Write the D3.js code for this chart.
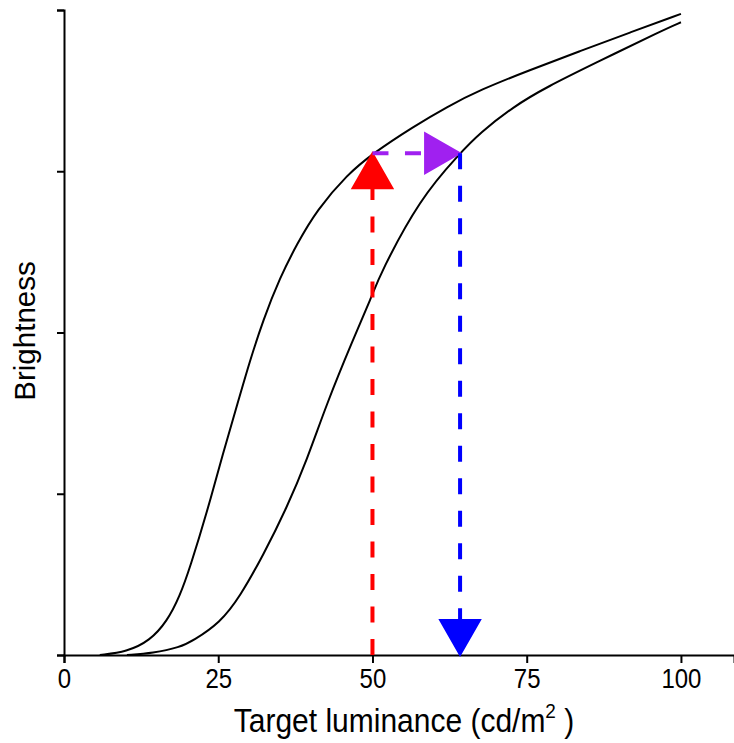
<!DOCTYPE html>
<html>
<head>
<meta charset="utf-8">
<script src="https://d3js.org/d3.v7.min.js"></script>
<style>
  body { margin: 0; background: #fff; }
  svg { font-family: "Liberation Sans", Arial, sans-serif; }
</style>
</head>
<body>
<div id="chart"></div>
<script>
// luminance (cd/m2) and brightness (0..1)
const lumLeft = [5.8, 10.2, 13.9, 16.7, 18.8, 20.4, 23.2, 25.8, 28.2, 30.1, 32.3, 35.0, 37.8, 41.0, 45.9, 50.1, 56.6, 62.1, 67.4, 75.5, 83.6, 91.7, 100];
const briLeft = [0, 0.005, 0.022, 0.052, 0.092, 0.135, 0.222, 0.314, 0.392, 0.455, 0.520, 0.585, 0.638, 0.690, 0.745, 0.778, 0.819, 0.850, 0.876, 0.907, 0.936, 0.965, 0.994];
const lumRight = [10.2, 14.4, 18.8, 20.9, 25.3, 28.5, 32.3, 36.1, 39.4, 42.6, 46.8, 49.9, 51.2, 57.7, 64.2, 67.4, 72.8, 78.3, 86.4, 97.1, 100];
const briRight = [0, 0.003, 0.012, 0.022, 0.050, 0.090, 0.155, 0.228, 0.303, 0.390, 0.488, 0.556, 0.590, 0.708, 0.778, 0.809, 0.850, 0.881, 0.919, 0.969, 0.981];

const xTicks = [0, 25, 50, 75, 100];
const yTicks = [0, 0.25, 0.5, 0.75, 1];

// arrows: [x0, y0, x1, y1] in data units
const arrowRed = [50, 0, 50, 0.778];
const arrowPurple = [50, 0.778, 64.2, 0.778];
const arrowBlue = [64.2, 0.778, 64.2, 0];

const width = 734, height = 743;
const margin = {top: 10, right: 0, bottom: 88, left: 64};

const svg = d3.select('#chart').append('svg')
  .attr('width', width)
  .attr('height', height);

const x = d3.scaleLinear().domain([0, 108.6]).range([margin.left, width - margin.right]);
const y = d3.scaleLinear().domain([0, 1]).range([height - margin.bottom, margin.top]);

// axes
const xAxis = svg.append('g')
  .attr('transform', 'translate(0,' + y(0) + ')')
  .call(d3.axisBottom(x).tickValues(xTicks).tickSizeOuter(0).tickSize(8).tickPadding(4));
xAxis.selectAll('text')
  .attr('font-size', 24)
  .attr('fill', '#000')
  .attr('transform', 'scale(1,1.12)')
  .attr('font-family', '"Liberation Sans", Arial, sans-serif');

svg.append('g')
  .attr('transform', 'translate(' + x(0) + ',0)')
  .call(d3.axisLeft(y).tickValues(yTicks).tickSizeOuter(0).tickSize(7).tickFormat(''));

svg.selectAll('.domain, .tick line').attr('stroke', '#000').attr('stroke-width', 2);

// curves
const line = d3.line()
  .x(d => x(d[0]))
  .y(d => y(d[1]))
  .curve(d3.curveBasis);

[[lumLeft, briLeft], [lumRight, briRight]].forEach(([lx, by]) => {
  svg.append('path')
    .datum(d3.zip(lx, by))
    .attr('fill', 'none')
    .attr('stroke', '#000')
    .attr('stroke-width', 2)
    .attr('d', line);
});

// dashed arrows with filled triangle heads
function arrow(a, color) {
  const x0 = x(a[0]), y0 = y(a[1]), x1 = x(a[2]), y1 = y(a[3]);
  const len = Math.hypot(x1 - x0, y1 - y0);
  const ux = (x1 - x0) / len, uy = (y1 - y0) / len;
  const headLen = 35, headHalf = 20;
  const bx = x1 - ux * headLen, by = y1 - uy * headLen;

  svg.append('line')
    .attr('x1', x0).attr('y1', y0)
    .attr('x2', bx).attr('y2', by)
    .attr('stroke', color)
    .attr('stroke-width', 4)
    .attr('stroke-dasharray', '16,16.5');

  const pts = [
    [x1, y1],
    [bx - uy * headHalf, by + ux * headHalf],
    [bx + uy * headHalf, by - ux * headHalf]
  ];
  svg.append('polygon')
    .attr('points', pts.map(p => p.join(',')).join(' '))
    .attr('fill', color)
    .attr('stroke', color)
    .attr('stroke-width', 2);
}

arrow(arrowRed, '#ff0000');
arrow(arrowPurple, '#a020f0');
arrow(arrowBlue, '#0000ff');

// titles
const xTitle = svg.append('text')
  .attr('transform', 'translate(404,732) scale(1,1.1)')
  .attr('text-anchor', 'middle')
  .attr('font-size', 30)
  .attr('fill', '#000');
xTitle.append('tspan').text('Target luminance (cd/m');
xTitle.append('tspan').attr('font-size', 19).attr('dy', -13).text('2');
xTitle.append('tspan').attr('dy', 13).text(' )');

svg.append('text')
  .attr('transform', 'translate(35,331) rotate(-90)')
  .attr('text-anchor', 'middle')
  .attr('font-size', 29.5)
  .attr('fill', '#000')
  .text('Brightness');
</script>
</body>
</html>
